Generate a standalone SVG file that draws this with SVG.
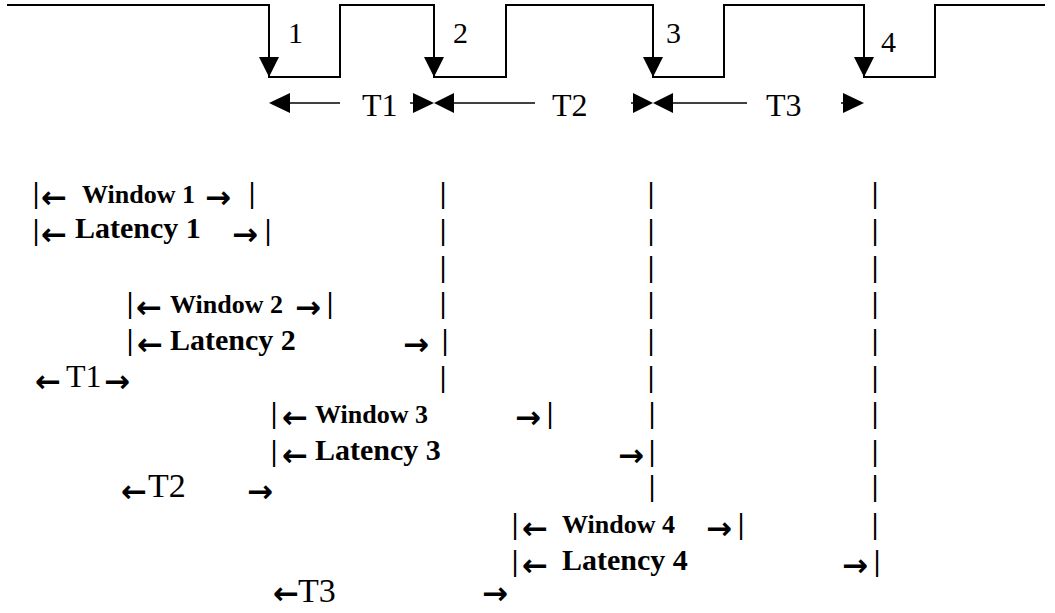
<svg xmlns="http://www.w3.org/2000/svg" width="1055" height="613" viewBox="0 0 1055 613">
<style>
.wave{fill:none;stroke:#000;stroke-width:2}
.ln{stroke:#000;stroke-width:1.5}
.hd{fill:#000}
text{fill:#000}
.num{font-family:"Liberation Serif","Times New Roman",serif;font-size:30px}
.t{font-family:"Liberation Serif","Times New Roman",serif;font-size:32px}
.t2{font-family:"Liberation Serif","Times New Roman",serif;font-size:34px}
.bar{font-family:"Liberation Serif","Times New Roman",serif;font-weight:bold;font-size:30px}
.arr{font-family:"DejaVu Sans",sans-serif;font-weight:bold;font-size:31px}
.win{font-family:"Liberation Serif","Times New Roman",serif;font-weight:bold;font-size:26px}
.lat{font-family:"Liberation Serif","Times New Roman",serif;font-weight:bold;font-size:30px}
</style>
<rect width="1055" height="613" fill="#fff"/>
<g id="waveform">
<path class="wave" d="M7,5 H269 V77 H340 V5 H434 V77 H506 V5 H653 V77 H724 V5 H864 V77 H935 V5 H1045"/>
<polygon class="hd" points="259,57 279,57 269,77"/>
<polygon class="hd" points="424,57 444,57 434,77"/>
<polygon class="hd" points="643,57 663,57 653,77"/>
<polygon class="hd" points="854,57 874,57 864,77"/>
<text class="num" x="288" y="43">1</text>
<text class="num" x="453" y="43">2</text>
<text class="num" x="666" y="43">3</text>
<text class="num" x="881" y="52">4</text>
</g>
<g id="periods">
<line class="ln" x1="290" y1="103" x2="340" y2="103"/>
<polygon class="hd" points="269,103 290,93 290,113"/>
<text class="t" x="362" y="116">T1</text>
<line class="ln" x1="410" y1="103" x2="415" y2="103"/>
<polygon class="hd" points="434,103 413,93 413,113"/>
<polygon class="hd" points="434,103 454,93 454,113"/>
<line class="ln" x1="454" y1="103" x2="535" y2="103"/>
<text class="t" x="552" y="116">T2</text>
<line class="ln" x1="631" y1="103" x2="635" y2="103"/>
<polygon class="hd" points="653,103 633,93 633,113"/>
<polygon class="hd" points="653,103 673,93 673,113"/>
<line class="ln" x1="673" y1="103" x2="747" y2="103"/>
<text class="t" x="766" y="116">T3</text>
<line class="ln" x1="841" y1="103" x2="845" y2="103"/>
<polygon class="hd" points="864,103 843,93 843,113"/>
</g>
<g id="row0"><text><tspan class="bar" x="32.7" y="203">|</tspan><tspan class="arr" x="41" y="208">←</tspan><tspan class="win" x="82" y="203">Window 1</tspan><tspan class="arr" x="205" y="208">→</tspan><tspan class="bar" x="248.7" y="203">|</tspan><tspan class="bar" x="439.7" y="203">|</tspan><tspan class="bar" x="647.7" y="203">|</tspan><tspan class="bar" x="871.7" y="203">|</tspan></text></g>
<g id="row1"><text><tspan class="bar" x="32.7" y="240">|</tspan><tspan class="arr" x="41" y="245">←</tspan><tspan class="lat" x="75" y="238">Latency 1</tspan><tspan class="arr" x="232" y="245">→</tspan><tspan class="bar" x="264.7" y="240">|</tspan><tspan class="bar" x="439.7" y="240">|</tspan><tspan class="bar" x="647.7" y="240">|</tspan><tspan class="bar" x="871.7" y="240">|</tspan></text></g>
<g id="row2"><text><tspan class="bar" x="439.7" y="277">|</tspan><tspan class="bar" x="647.7" y="277">|</tspan><tspan class="bar" x="871.7" y="277">|</tspan></text></g>
<g id="row3"><text><tspan class="bar" x="126.7" y="313">|</tspan><tspan class="arr" x="136" y="318">←</tspan><tspan class="win" x="170" y="313">Window 2</tspan><tspan class="arr" x="295" y="318">→</tspan><tspan class="bar" x="326.7" y="313">|</tspan><tspan class="bar" x="439.7" y="313">|</tspan><tspan class="bar" x="647.7" y="313">|</tspan><tspan class="bar" x="871.7" y="313">|</tspan></text></g>
<g id="row4"><text><tspan class="bar" x="126.7" y="350">|</tspan><tspan class="arr" x="137" y="355">←</tspan><tspan class="lat" x="170" y="350">Latency 2</tspan><tspan class="arr" x="403" y="355">→</tspan><tspan class="bar" x="441.7" y="350">|</tspan><tspan class="bar" x="647.7" y="350">|</tspan><tspan class="bar" x="871.7" y="350">|</tspan></text></g>
<g id="row5"><text><tspan class="arr" x="35" y="392">←</tspan><tspan class="t" x="66" y="387">T1</tspan><tspan class="arr" x="104" y="392">→</tspan><tspan class="bar" x="439.7" y="387">|</tspan><tspan class="bar" x="647.7" y="387">|</tspan><tspan class="bar" x="871.7" y="387">|</tspan></text></g>
<g id="row6"><text><tspan class="bar" x="270.7" y="423">|</tspan><tspan class="arr" x="282" y="428">←</tspan><tspan class="win" x="315" y="423">Window 3</tspan><tspan class="arr" x="515" y="428">→</tspan><tspan class="bar" x="546.7" y="423">|</tspan><tspan class="bar" x="648.7" y="423">|</tspan><tspan class="bar" x="871.7" y="423">|</tspan></text></g>
<g id="row7"><text><tspan class="bar" x="270.7" y="461">|</tspan><tspan class="arr" x="282" y="466">←</tspan><tspan class="lat" x="315" y="460">Latency 3</tspan><tspan class="arr" x="618" y="466">→</tspan><tspan class="bar" x="648.7" y="461">|</tspan><tspan class="bar" x="871.7" y="461">|</tspan></text></g>
<g id="row8"><text><tspan class="arr" x="121" y="502">←</tspan><tspan class="t2" x="148" y="497">T2</tspan><tspan class="arr" x="247" y="502">→</tspan><tspan class="bar" x="648.7" y="496">|</tspan><tspan class="bar" x="871.7" y="496">|</tspan></text></g>
<g id="row9"><text><tspan class="bar" x="511.7" y="534">|</tspan><tspan class="arr" x="522" y="539">←</tspan><tspan class="win" x="562" y="533">Window 4</tspan><tspan class="arr" x="706" y="539">→</tspan><tspan class="bar" x="737.7" y="534">|</tspan><tspan class="bar" x="871.7" y="534">|</tspan></text></g>
<g id="row10"><text><tspan class="bar" x="511.7" y="571">|</tspan><tspan class="arr" x="522" y="576">←</tspan><tspan class="lat" x="562" y="570">Latency 4</tspan><tspan class="arr" x="842" y="576">→</tspan><tspan class="bar" x="873.7" y="571">|</tspan></text></g>
<g id="row11"><text><tspan class="arr" x="273" y="604">←</tspan><tspan class="t2" x="298" y="602">T3</tspan><tspan class="arr" x="482" y="604">→</tspan></text></g>
</svg>
